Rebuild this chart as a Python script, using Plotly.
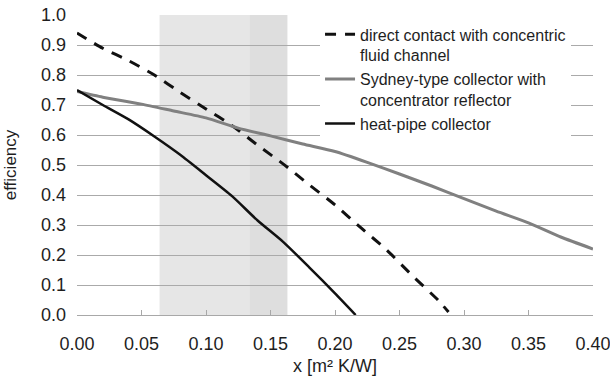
import plotly.graph_objects as go

# Collector efficiency vs. x [m² K/W]
direct_x = [0.0, 0.02, 0.04, 0.06, 0.08, 0.10, 0.12, 0.14, 0.16, 0.18, 0.20, 0.22, 0.24, 0.26, 0.28, 0.288]
direct_y = [0.94, 0.889, 0.848, 0.80, 0.742, 0.687, 0.632, 0.566, 0.503, 0.434, 0.367, 0.291, 0.217, 0.131, 0.049, 0.01]

sydney_x = [0.0, 0.02, 0.05, 0.075, 0.10, 0.125, 0.15, 0.175, 0.20, 0.225, 0.25, 0.275, 0.30, 0.325, 0.35, 0.375, 0.40]
sydney_y = [0.745, 0.726, 0.703, 0.680, 0.657, 0.623, 0.597, 0.570, 0.545, 0.509, 0.470, 0.430, 0.388, 0.346, 0.307, 0.260, 0.220]

heatpipe_x = [0.0, 0.02, 0.04, 0.06, 0.08, 0.10, 0.12, 0.14, 0.16, 0.18, 0.20, 0.216]
heatpipe_y = [0.75, 0.70, 0.652, 0.595, 0.534, 0.466, 0.397, 0.315, 0.243, 0.159, 0.072, 0.0]

series_names = [
    "direct contact with concentric<br>fluid channel",
    "Sydney-type collector with<br>concentrator reflector",
    "heat-pipe collector",
]

# shaded operating band
band_x = [0.064, 0.163]
band_dark_x = [0.134, 0.163]

x_ticks = [0.00, 0.05, 0.10, 0.15, 0.20, 0.25, 0.30, 0.35, 0.40]
y_ticks = [0.0, 0.1, 0.2, 0.3, 0.4, 0.5, 0.6, 0.7, 0.8, 0.9, 1.0]

fig = go.Figure()
fig.add_trace(go.Scatter(x=direct_x, y=direct_y, mode="lines", name=series_names[0],
                         line=dict(color="#111111", width=3, dash="11px,9px",
                                   shape="spline", smoothing=0.6)))
fig.add_trace(go.Scatter(x=sydney_x, y=sydney_y, mode="lines", name=series_names[1],
                         line=dict(color="#808080", width=3, shape="spline", smoothing=0.6)))
fig.add_trace(go.Scatter(x=heatpipe_x, y=heatpipe_y, mode="lines", name=series_names[2],
                         line=dict(color="#111111", width=2.5, shape="spline", smoothing=0.6)))

fig.add_shape(type="rect", xref="x", yref="y", x0=band_x[0], x1=band_x[1], y0=0, y1=1.0,
              fillcolor="#e6e6e6", line_width=0, layer="below")
fig.add_shape(type="rect", xref="x", yref="y", x0=band_dark_x[0], x1=band_dark_x[1], y0=0, y1=1.0,
              fillcolor="#dedede", line_width=0, layer="below")

font_family = "Liberation Sans, Arial, sans-serif"
text_color = "#1e1e1e"

fig.update_layout(
    width=610, height=376,
    margin=dict(l=77, r=17, t=15, b=61),
    paper_bgcolor="white", plot_bgcolor="white",
    font=dict(family=font_family, color=text_color),
    showlegend=True,
    legend=dict(
        x=0.471, xanchor="left", y=0.992, yanchor="top",
        bgcolor="white", borderwidth=0,
        font=dict(size=16, color=text_color),
        valign="top", tracegroupgap=0, itemwidth=30,
    ),
    xaxis=dict(
        range=[0, 0.40], tickvals=x_ticks, tickformat=".2f",
        showgrid=False, zeroline=False, automargin=False,
        showline=True, linecolor="#a8a8a8", linewidth=1,
        ticks="inside", ticklen=5, tickcolor="#a8a8a8",
        ticklabelstandoff=12, ticklabeloverflow="allow",
        tickfont=dict(size=18, color=text_color),
        title=dict(text="x [m² K/W]", font=dict(size=18, color=text_color), standoff=9),
    ),
    yaxis=dict(
        range=[0, 1.0], tickvals=y_ticks, tickformat=".1f",
        showgrid=True, gridcolor="#aaaaaa", gridwidth=1,
        zeroline=False, showline=False, ticks="", automargin=False,
        ticklabelstandoff=10, ticklabeloverflow="allow",
        tickfont=dict(size=18, color=text_color),
        title=dict(text="efficiency", font=dict(size=17, color=text_color), standoff=20),
    ),
)

fig.write_html("out.html")
